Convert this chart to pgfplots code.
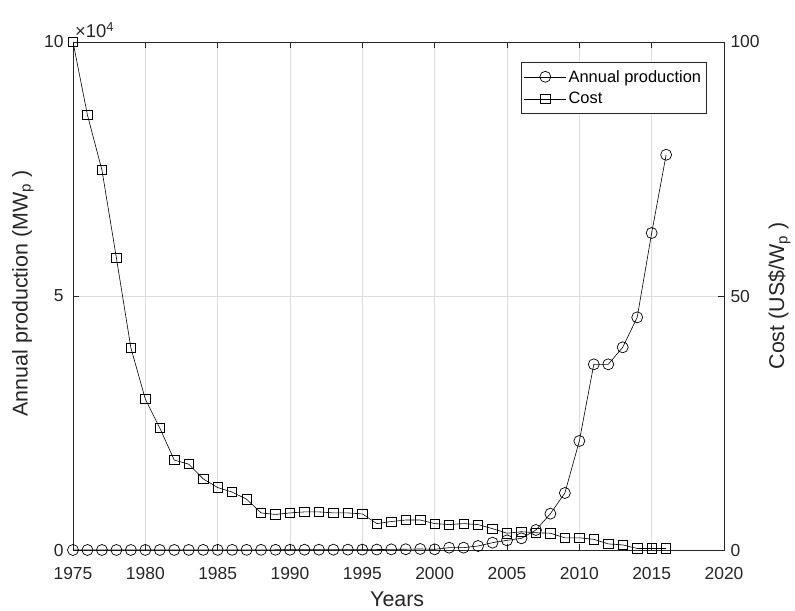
\documentclass[border=0pt]{standalone}
\usepackage{pgfplots}
\pgfplotsset{compat=1.18}
\usepackage{fontspec}
\setmainfont{Liberation Sans}

\pgfplotstableread{
year prod cost
1975 2 100
1976 2 85.6
1977 2 74.8
1978 3 57.5
1979 4 39.8
1980 7 29.7
1981 8 24.0
1982 9 17.7
1983 17 16.9
1984 22 14.0
1985 23 12.3
1986 26 11.4
1987 29 10.0
1988 34 7.3
1989 40 7.0
1990 46 7.3
1991 55 7.5
1992 58 7.5
1993 60 7.3
1994 69 7.3
1995 78 7.1
1996 89 5.2
1997 126 5.6
1998 153 5.9
1999 201 5.9
2000 130 5.2
2001 460 5.0
2002 460 5.2
2003 790 5.0
2004 1440 4.2
2005 1900 3.3
2006 2300 3.6
2007 3940 3.4
2008 7150 3.3
2009 11220 2.4
2010 21460 2.4
2011 36550 2.1
2012 36550 1.2
2013 39900 1.0
2014 45800 0.3
2015 62400 0.3
2016 77800 0.3
}\datatable

\definecolor{gridc}{gray}{0.87}
\definecolor{axc}{gray}{0.15}

\pgfplotsset{
  myax/.style={
    scale only axis, width=651bp, height=508bp,
    at={(0,0)}, anchor=south west,
    xmin=1975, xmax=2020,
    xtick={1975,1980,...,2020},
    tick align=inside,
    major tick length=6bp,
    axis line style={axc, line width=0.6bp},
    every tick/.style={axc, line width=0.6bp},
    tick label style={font=\fontsize{17.5}{21}\selectfont, text=axc},
    label style={font=\fontsize{21.5}{25}\selectfont, text=axc},
    xticklabel style={yshift=-14bp},
    /pgf/number format/assume math mode=true,
    /pgf/number format/1000 sep={},
    legend image code/.code={\draw[mark repeat=2, mark phase=2, #1] plot coordinates {(0bp,0bp) (21bp,0bp) (42bp,0bp)};},
  },
}

\begin{document}
\begin{tikzpicture}
\path (-73bp,-59bp) rectangle (722bp,550bp);
\begin{axis}[myax,
  ymin=0, ymax=100000,
  ytick={0,50000,100000},
  yticklabels={0,5,10},
  scaled y ticks=false,
  ytick pos=left,
  xtick pos=both,
  grid=major,
  major grid style={gridc, line width=0.6bp},
  yticklabel style={xshift=-6bp},
  xlabel={Years},
  ylabel={Annual production (MW\textsubscript{p}\ )},
  xlabel style={at={(axis description cs:0.498,-0.097)}, anchor=center},
  ylabel style={at={(axis description cs:-0.077,0.505)}, anchor=center},
]
\addplot[black, line width=0.6bp, mark=o, mark size=5.5bp, mark options={solid, line width=0.7bp}] table[x=year, y=prod] {\datatable};
\end{axis}
\begin{axis}[myax,
  axis y line*=right,
  axis x line=none,
  ymin=0, ymax=100,
  ytick={0,50,100},
  yticklabel style={xshift=3bp},
  ylabel={Cost (US\$/W\textsubscript{p}\ )},
  ylabel style={at={(axis description cs:1.085,0.5)}, anchor=center, rotate=0},
  legend style={at={(0.973,0.961)}, anchor=north east, draw=axc, line width=0.6bp,
    font=\fontsize{16.5}{20}\selectfont, text=black, inner xsep=3bp, inner ysep=6bp, row sep=5bp},
  legend cell align=left,
]
\addlegendimage{black, line width=0.6bp, mark=o, mark size=5.5bp, mark options={solid, line width=0.7bp}}
\addlegendentry{Annual production}
\addplot[black, line width=0.6bp, mark=square, mark size=4.7bp, mark options={solid, line width=0.7bp}] table[x=year, y=cost] {\datatable};
\addlegendentry{Cost}
\end{axis}
\node[anchor=base west, inner sep=0pt, text=axc] at (2bp,512.6bp) {\fontsize{18.5}{22}\selectfont ×10\textsuperscript{4}};
\end{tikzpicture}
\end{document}
